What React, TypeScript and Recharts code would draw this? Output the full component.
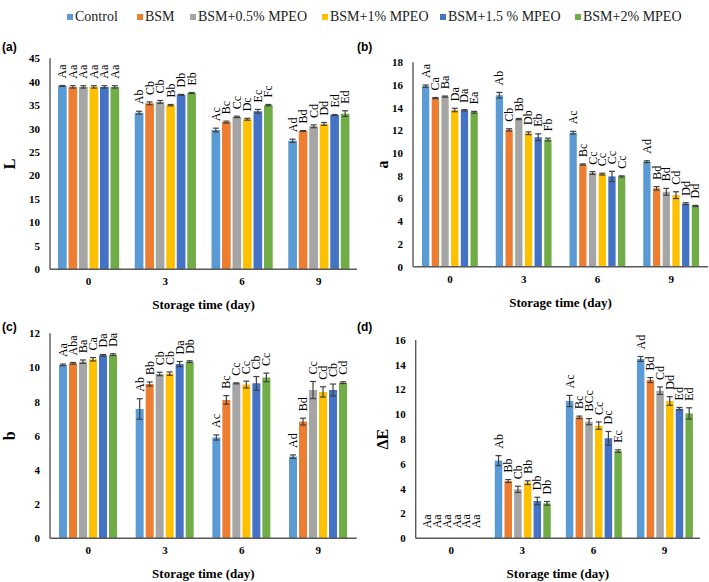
import React from 'react'
import { BarChart, Bar, XAxis, YAxis, ErrorBar, LabelList } from 'recharts'

const days = ['0', '3', '6', '9']
const treatments = ['Control', 'BSM', 'BSM+0.5% MPEO', 'BSM+1% MPEO', 'BSM+1.5 % MPEO', 'BSM+2% MPEO']
const colors = ['#5B9BD5', '#ED7D31', '#A5A5A5', '#FFC000', '#4472C4', '#70AD47']

// each row is one treatment, columns are day 0, 3, 6, 9
const lMeans = [
  [39.1, 33.4, 29.7, 27.4],
  [38.9, 35.4, 31.4, 29.5],
  [38.9, 35.7, 32.5, 30.5],
  [38.9, 35.0, 32.0, 31.0],
  [38.9, 37.2, 33.7, 32.9],
  [38.9, 37.6, 35.0, 33.2],
]
const lErrors = [
  [0.1, 0.3, 0.4, 0.35],
  [0.25, 0.3, 0.2, 0.1],
  [0.25, 0.3, 0.15, 0.3],
  [0.25, 0.15, 0.2, 0.3],
  [0.25, 0.1, 0.4, 0.1],
  [0.25, 0.1, 0.15, 0.6],
]
const lLetters = [
  ['Aa', 'Ab', 'Ac', 'Ad'],
  ['Aa', 'Cb', 'Bc', 'Bd'],
  ['Aa', 'Cb', 'Cc', 'Cd'],
  ['Aa', 'Bb', 'Dc', 'Dd'],
  ['Aa', 'Db', 'Ec', 'Ed'],
  ['Aa', 'Eb', 'Fc', 'Ed'],
]

const aMeans = [
  [15.9, 15.1, 11.8, 9.25],
  [14.85, 12.05, 9.0, 6.9],
  [14.98, 13.0, 8.25, 6.6],
  [13.8, 11.75, 8.15, 6.3],
  [13.78, 11.4, 7.95, 5.55],
  [13.6, 11.2, 7.95, 5.35],
]
const aErrors = [
  [0.1, 0.25, 0.12, 0.08],
  [0.05, 0.1, 0.05, 0.15],
  [0.05, 0.05, 0.12, 0.3],
  [0.15, 0.12, 0.08, 0.3],
  [0.05, 0.3, 0.45, 0.08],
  [0.08, 0.12, 0.05, 0.05],
]
const aLetters = [
  ['Aa', 'Ab', 'Ac', 'Ad'],
  ['Ca', 'Cb', 'Bc', 'Bd'],
  ['Ba', 'Bb', 'Cc', 'Bd'],
  ['Da', 'Db', 'Cc', 'Cd'],
  ['Da', 'Eb', 'Cc', 'Dd'],
  ['Ea', 'Fb', 'Cc', 'Dd'],
]

const bMeans = [
  [10.15, 7.57, 5.9, 4.78],
  [10.24, 9.03, 8.1, 6.83],
  [10.34, 9.62, 9.07, 8.68],
  [10.48, 9.64, 9.0, 8.57],
  [10.71, 10.2, 9.07, 8.68],
  [10.75, 10.34, 9.42, 9.11],
]
const bErrors = [
  [0.05, 0.6, 0.15, 0.1],
  [0.05, 0.12, 0.25, 0.2],
  [0.1, 0.1, 0.03, 0.5],
  [0.1, 0.1, 0.2, 0.3],
  [0.05, 0.15, 0.4, 0.35],
  [0.05, 0.05, 0.25, 0.05],
]
const bLetters = [
  ['Aa', 'Ab', 'Ac', 'Ad'],
  ['Aba', 'Bb', 'Bc', 'Bd'],
  ['Ba', 'Cb', 'Cc', 'Cc'],
  ['Ca', 'Cb', 'Cc', 'Cd'],
  ['Da', 'Da', 'Cb', 'Cb'],
  ['Da', 'Db', 'Cc', 'Cd'],
]

const eMeans = [
  [0, 6.27, 11.08, 14.47],
  [0, 4.62, 9.76, 12.77],
  [0, 3.95, 9.41, 11.91],
  [0, 4.49, 9.09, 11.08],
  [0, 3.01, 8.07, 10.46],
  [0, 2.82, 7.04, 10.08],
]
const eErrors = [
  [0, 0.4, 0.45, 0.2],
  [0, 0.12, 0.1, 0.2],
  [0, 0.25, 0.25, 0.3],
  [0, 0.15, 0.3, 0.35],
  [0, 0.3, 0.55, 0.1],
  [0, 0.15, 0.1, 0.45],
]
const eLetters = [
  ['Aa', 'Ab', 'Ac', 'Ad'],
  ['Aa', 'Bb', 'Bc', 'Bd'],
  ['Aa', 'Cb', 'BCc', 'Cd'],
  ['Aa', 'Bb', 'Cc', 'Dd'],
  ['Aa', 'Db', 'Dc', 'Ed'],
  ['Aa', 'Db', 'Ec', 'Ed'],
]

const lTicks = [0, 5, 10, 15, 20, 25, 30, 35, 40, 45]
const aTicks = [0, 2, 4, 6, 8, 10, 12, 14, 16, 18]
const bTicks = [0, 2, 4, 6, 8, 10, 12]
const eTicks = [0, 2, 4, 6, 8, 10, 12, 14, 16]

const serif = "'Liberation Serif', 'Times New Roman', serif"
const sans = "'Liberation Sans', Arial, sans-serif"
const axisColor = '#595959'

type Row = { [key: string]: number | string }

function buildRows(means: number[][], errors: number[][], letters: string[][]): Row[] {
  return days.map((day, i) => {
    const row: Row = { day }
    treatments.forEach((_, s) => {
      row[`m${s}`] = means[s][i]
      row[`e${s}`] = errors[s][i]
      row[`l${s}`] = letters[s][i]
    })
    return row
  })
}

// label value is the day, so the row is found even if some bars are skipped
const letterLabel = (rows: Row[], s: number) => (props: any) => {
  const { x, y, width, height, value } = props
  const row = rows.find((r) => r.day === String(value))
  if (!row) return null
  const mean = Number(row[`m${s}`])
  const err = Number(row[`e${s}`])
  const perUnit = mean > 0 ? Math.abs(Number(height)) / mean : 0
  const cx = Number(x) + Number(width) / 2
  const base = Number(y) - err * perUnit - (mean > 0 ? 7 : 10)
  return (
    <text
      x={cx}
      y={base}
      transform={`rotate(-90 ${cx} ${base})`}
      textAnchor="start"
      dominantBaseline="central"
      fontFamily={serif}
      fontSize={12}
      fill="#000"
    >
      {row[`l${s}`]}
    </text>
  )
}

type PanelProps = {
  tag: string
  yLabel: string
  means: number[][]
  errors: number[][]
  letters: string[][]
  ticks: number[]
  left: number
  top: number
  width: number
  height: number
  margin: { top: number; right: number; bottom: number; left: number }
  yAxisWidth: number
  barSize: number
  barGap: number
  yLabelX: number
}

function Panel(p: PanelProps) {
  const rows = buildRows(p.means, p.errors, p.letters)
  const yMax = p.ticks[p.ticks.length - 1]
  return (
    <div style={{ position: 'absolute', left: p.left, top: p.top, width: p.width, height: p.height }}>
      <BarChart
        width={p.width}
        height={p.height}
        data={rows}
        margin={p.margin}
        barSize={p.barSize}
        barGap={p.barGap}
      >
        <XAxis
          dataKey="day"
          height={40}
          tickLine={false}
          axisLine={{ stroke: axisColor, strokeWidth: 1.4 }}
          tick={{ fontFamily: serif, fontSize: 11, fontWeight: 'bold', fill: '#000' }}
          label={{
            value: 'Storage time (day)',
            position: 'insideBottom',
            offset: 0,
            style: { fontFamily: serif, fontSize: 13, fontWeight: 'bold', fill: '#000' },
          }}
        />
        <YAxis
          width={p.yAxisWidth}
          domain={[0, yMax]}
          ticks={p.ticks}
          interval={0}
          tickLine={false}
          tickSize={6}
          tickMargin={4}
          axisLine={{ stroke: axisColor, strokeWidth: 1.4 }}
          tick={{ fontFamily: serif, fontSize: 11, fontWeight: 'bold', fill: '#000' }}
          label={(lp: any) => {
            const vb = lp.viewBox || {}
            const cy = Number(vb.y) + Number(vb.height) / 2
            return (
              <text
                x={p.yLabelX}
                y={cy}
                transform={`rotate(-90 ${p.yLabelX} ${cy})`}
                textAnchor="middle"
                dominantBaseline="central"
                fontFamily={serif}
                fontSize={16}
                fontWeight="bold"
                fill="#000"
              >
                {p.yLabel}
              </text>
            )
          }}
        />
        {treatments.map((t, s) => (
          <Bar
            key={t}
            dataKey={`m${s}`}
            name={t}
            fill={colors[s]}
            minPointSize={0.01}
            isAnimationActive={false}
          >
            <ErrorBar dataKey={`e${s}`} width={3} stroke="#404040" strokeWidth={1.2} isAnimationActive={false} />
            <LabelList dataKey="day" content={letterLabel(rows, s)} />
          </Bar>
        ))}
      </BarChart>
      <div
        style={{
          position: 'absolute',
          left: 2,
          top: 4,
          fontFamily: sans,
          fontSize: 12,
          fontWeight: 'bold',
          color: '#000',
        }}
      >
        {p.tag}
      </div>
    </div>
  )
}

const legendX = [67, 137, 190, 322, 440, 575]

function Legend() {
  return (
    <>
      {treatments.map((t, s) => (
        <div
          key={t}
          style={{
            position: 'absolute',
            left: legendX[s],
            top: 9,
            display: 'flex',
            alignItems: 'center',
            fontFamily: serif,
            fontSize: 14,
            color: '#222',
            whiteSpace: 'nowrap',
          }}
        >
          <span style={{ display: 'inline-block', width: 6, height: 6, background: colors[s], marginRight: 2 }} />
          {t}
        </div>
      ))}
    </>
  )
}

export default function App() {
  return (
    <div style={{ position: 'absolute', left: 0, top: 0, width: 709, height: 582, background: '#fff', overflow: 'hidden' }}>
      <Legend />
      <Panel
        tag="(a)"
        yLabel="L"
        means={lMeans}
        errors={lErrors}
        letters={lLetters}
        ticks={lTicks}
        left={0}
        top={36}
        width={362}
        height={280}
        margin={{ top: 22.3, right: 5, bottom: 6.7, left: 0 }}
        yAxisWidth={50}
        barSize={8.7}
        barGap={1.8}
        yLabelX={10}
      />
      <Panel
        tag="(b)"
        yLabel="a"
        means={aMeans}
        errors={aErrors}
        letters={aLetters}
        ticks={aTicks}
        left={355}
        top={36}
        width={354}
        height={280}
        margin={{ top: 26.3, right: 1, bottom: 9.3, left: 0 }}
        yAxisWidth={58}
        barSize={7.3}
        barGap={2.4}
        yLabelX={27}
      />
      <Panel
        tag="(c)"
        yLabel="b"
        means={bMeans}
        errors={bErrors}
        letters={bLetters}
        ticks={bTicks}
        left={0}
        top={316}
        width={362}
        height={266}
        margin={{ top: 17.3, right: 5.3, bottom: 3.7, left: 0 }}
        yAxisWidth={50}
        barSize={8}
        barGap={2}
        yLabelX={10}
      />
      <Panel
        tag="(d)"
        yLabel="ΔE"
        means={eMeans}
        errors={eErrors}
        letters={eLetters}
        ticks={eTicks}
        left={355}
        top={316}
        width={354}
        height={266}
        margin={{ top: 24, right: 9, bottom: 3.7, left: 0 }}
        yAxisWidth={60.7}
        barSize={7.5}
        barGap={2.2}
        yLabelX={28}
      />
    </div>
  )
}
